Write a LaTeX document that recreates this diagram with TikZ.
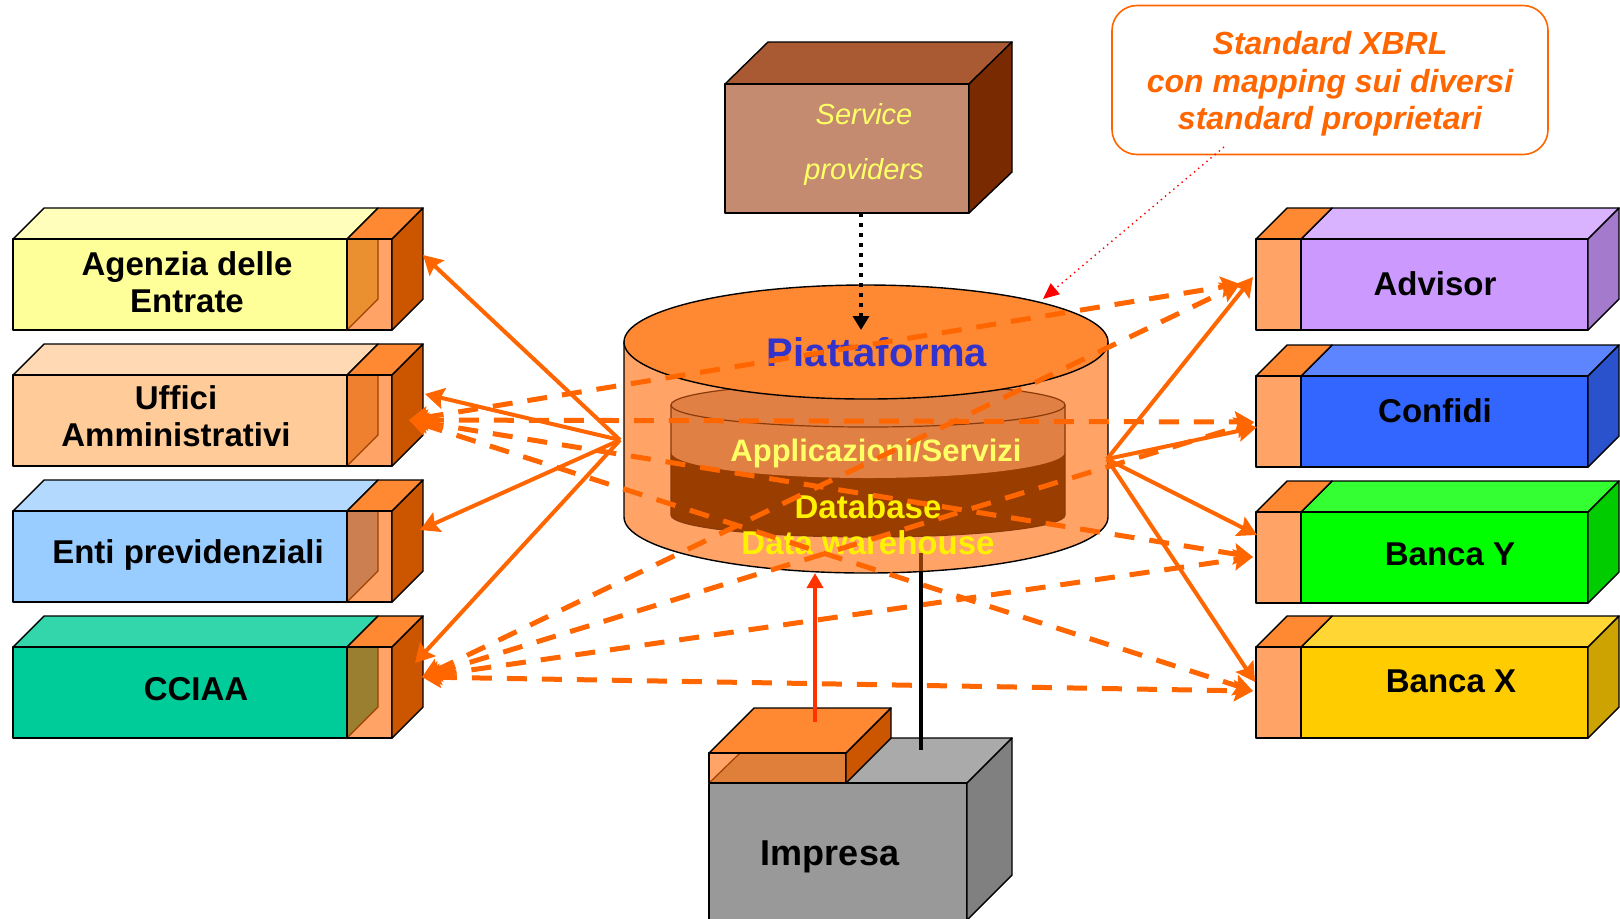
\documentclass[tikz,border=0pt]{standalone}
\usepackage{fontspec}
\setmainfont{Liberation Sans}
\usetikzlibrary{arrows.meta}
\definecolor{conn}{HTML}{FF6600}
\definecolor{captop}{HTML}{FF8833}
\definecolor{capfront}{HTML}{FFA366}
\definecolor{capside}{HTML}{CC5500}
\definecolor{capline}{HTML}{A04000}
\definecolor{agfront}{HTML}{FFFF99}
\definecolor{agtop}{HTML}{FFFFBB}
\definecolor{aginner}{HTML}{EB9030}
\definecolor{uffront}{HTML}{FFCC99}
\definecolor{uftop}{HTML}{FFD9B3}
\definecolor{ufinner}{HTML}{EE8030}
\definecolor{enfront}{HTML}{99CCFF}
\definecolor{entop}{HTML}{B3D9FF}
\definecolor{eninner}{HTML}{CC7F50}
\definecolor{ccfront}{HTML}{00CC99}
\definecolor{cctop}{HTML}{33D6AA}
\definecolor{ccinner}{HTML}{9A7F30}
\definecolor{adfront}{HTML}{CC99FF}
\definecolor{adtop}{HTML}{D9B3FF}
\definecolor{adside}{HTML}{A37ACC}
\definecolor{cofront}{HTML}{3366FF}
\definecolor{cotop}{HTML}{5C85FF}
\definecolor{coside}{HTML}{2952CC}
\definecolor{byfront}{HTML}{00FF00}
\definecolor{bytop}{HTML}{33FF33}
\definecolor{byside}{HTML}{00CC00}
\definecolor{bxfront}{HTML}{FFCC00}
\definecolor{bxtop}{HTML}{FFD633}
\definecolor{bxside}{HTML}{CCA300}
\definecolor{svfront}{HTML}{C48B70}
\definecolor{svtop}{HTML}{AA5A33}
\definecolor{svside}{HTML}{7A2A00}
\definecolor{svtext}{HTML}{FFFF66}
\definecolor{cyltop}{HTML}{FF8833}
\definecolor{cylbody}{HTML}{FFA366}
\definecolor{band}{HTML}{E08045}
\definecolor{dbdark}{HTML}{993D00}
\definecolor{innerline}{HTML}{8B3A0A}
\definecolor{piattblue}{HTML}{3333CC}
\definecolor{imfront}{HTML}{999999}
\definecolor{imtop}{HTML}{AAAAAA}
\definecolor{imside}{HTML}{808080}
\definecolor{imorange}{HTML}{E07F3A}
\definecolor{feed}{HTML}{FF3300}
\tikzset{>/.tip={Stealth[length=9.5pt,width=10.5pt,inset=1.5pt]},
  boxface/.style={draw=black, line width=0.7pt, line join=round},
  lbl/.style={font=\bfseries\fontsize{16.5}{18.75}\selectfont, align=center},
  link/.style={draw=conn, line width=2pt, ->},
  dlink/.style={draw=conn, line width=2.5pt, dash pattern=on 10pt off 7.5pt, <->},
  callout/.style={draw=conn, line width=0.8pt, rounded corners=12.5pt, fill=white,
    minimum width=218pt, minimum height=74.5pt, text=conn, align=center,
    font=\bfseries\itshape\fontsize{16}{18.75}\selectfont}}
% top y, front, top, inner
\newcommand{\leftblock}[4]{%
  \begin{scope}[shift={(0,#1)}]
    \filldraw[boxface, fill=#3] (13,0) -- (44,-31) -- (378,-31) -- (347,0) -- cycle;
    \filldraw[boxface, fill=#2] (13,0) rectangle (347,91);
    \filldraw[boxface, fill=captop] (347,0) -- (378,-31) -- (423,-31) -- (392,0) -- cycle;
    \fill[capfront] (347,0) rectangle (392,91);
    \filldraw[draw=capline, line width=0.6pt, fill=#4] (347,0) -- (378,0) -- (378,60) -- (347,91) -- cycle;
    \draw[boxface] (347,0) rectangle (392,91);
    \filldraw[boxface, fill=capside] (392,0) -- (423,-31) -- (423,60) -- (392,91) -- cycle;
  \end{scope}}
% top y, front, top, side
\newcommand{\rightblock}[4]{%
  \begin{scope}[shift={(0,#1)}]
    \filldraw[boxface, fill=#3] (1301,0) -- (1332,-31) -- (1619,-31) -- (1588,0) -- cycle;
    \filldraw[boxface, fill=captop] (1256,0) -- (1287,-31) -- (1332,-31) -- (1301,0) -- cycle;
    \filldraw[boxface, fill=capfront] (1256,0) rectangle (1301,91);
    \filldraw[boxface, fill=#2] (1301,0) rectangle (1588,91);
    \filldraw[boxface, fill=#4] (1588,0) -- (1619,-31) -- (1619,60) -- (1588,91) -- cycle;
  \end{scope}}

\begin{document}
\begin{tikzpicture}[x=0.5pt, y=-0.5pt]
\clip (0,0) rectangle (1620,918);
\fill[white] (0,0) rectangle (1620,918);

\leftblock{239}{agfront}{agtop}{aginner}
\leftblock{375}{uffront}{uftop}{ufinner}
\leftblock{511}{enfront}{entop}{eninner}
\leftblock{647}{ccfront}{cctop}{ccinner}
\node[lbl] (agenzia) at (187,282) {Agenzia delle\\Entrate};
\node[lbl] (uffici)  at (176,416) {Uffici\\Amministrativi};
\node[lbl, anchor=base] (enti)  at (188,563) {Enti previdenziali};
\node[lbl, anchor=base] (cciaa) at (196,700) {CCIAA};

\rightblock{239}{adfront}{adtop}{adside}
\rightblock{376}{cofront}{cotop}{coside}
\rightblock{512}{byfront}{bytop}{byside}
\rightblock{647}{bxfront}{bxtop}{bxside}
\node[lbl, anchor=base] (advisor) at (1435,295) {Advisor};
\node[lbl, anchor=base] (confidi) at (1435,422) {Confidi};
\node[lbl, anchor=base] (bancay)  at (1450,565) {Banca Y};
\node[lbl, anchor=base] (bancax)  at (1451,692) {Banca X};

% service providers
\filldraw[boxface, fill=svtop] (725,84) -- (768,42) -- (1012,42) -- (969,84) -- cycle;
\filldraw[boxface, fill=svfront] (725,84) rectangle (969,213);
\filldraw[boxface, fill=svside] (969,84) -- (1012,42) -- (1012,172) -- (969,213) -- cycle;
\node[font=\itshape\fontsize{14.5}{27.5}\selectfont, text=svtext, align=center] (service) at (864,144) {Service\\providers};

% impresa
\filldraw[boxface, fill=imtop] (709,783) -- (754,738) -- (1012,738) -- (967,783) -- cycle;
\filldraw[boxface, fill=imfront] (709,783) rectangle (967,925);
\filldraw[boxface, fill=imside] (967,783) -- (1012,738) -- (1012,875) -- (967,920) -- cycle;
\filldraw[boxface, fill=captop] (709,753) -- (754,708) -- (891,708) -- (846,753) -- cycle;
\fill[imorange] (709,753) rectangle (846,783);
\filldraw[draw=capline, line width=0.6pt, fill=capfront] (709,753) -- (740,753) -- (709,783) -- cycle;
\draw[boxface] (709,753) rectangle (846,783);
\filldraw[boxface, fill=capside] (846,753) -- (891,708) -- (891,738) -- (846,783) -- cycle;
\node[lbl, font=\bfseries\fontsize{18}{20}\selectfont, anchor=base] (impresa) at (830,865) {Impresa};

% piattaforma
\filldraw[boxface, fill=cylbody] (624,342) -- (624,517) arc[start angle=180, end angle=0, x radius=242, y radius=56] -- (1108,342) -- cycle;
\fill[dbdark] (671,405) -- (671,515) arc[start angle=180, end angle=0, x radius=197, y radius=22] -- (1065,405) -- cycle;
\fill[band] (671,405) -- (671,452) arc[start angle=180, end angle=0, x radius=197, y radius=26] -- (1065,405) -- cycle;
\filldraw[draw=innerline, line width=0.6pt, fill=band] (868,405) ellipse [x radius=197, y radius=22];
\draw[innerline, line width=0.6pt] (671,405) -- (671,515) arc[start angle=180, end angle=0, x radius=197, y radius=22] -- (1065,405);
\filldraw[boxface, fill=cyltop] (866,342) ellipse [x radius=242, y radius=57];
\node[font=\bfseries\fontsize{20}{22}\selectfont, text=piattblue, anchor=base] (piatt) at (877,366) {Piattaforma};
\node[font=\bfseries\fontsize{15.5}{18}\selectfont, text=svtext, anchor=base] (app) at (876,461) {Applicazioni/Servizi};
\node[font=\bfseries\fontsize{16.5}{18}\selectfont, text=yellow, align=center] (db) at (868,525) {Database\\Data warehouse};

% ports
\coordinate (hubL) at (620,440);
\coordinate (hubR) at (1107,459);
\coordinate (agenzia-s) at (423,255);
\coordinate (uffici-s)  at (425,394);
\coordinate (enti-s)    at (420,530);
\coordinate (cciaa-s)   at (415,663);
\coordinate (advisor-s) at (1253,277);
\coordinate (confidi-s) at (1257,427);
\coordinate (bancay-s)  at (1257,535);
\coordinate (bancax-s)  at (1255,682);
\coordinate (uffici-d)  at (409,420);
\coordinate (cciaa-d)   at (422,677);
\coordinate (advisor-d) at (1240,284);
\coordinate (confidi-d) at (1254,422);
\coordinate (bancay-d)  at (1253,557);
\coordinate (bancax-d)  at (1253,691);
\coordinate (svc-out) at (861,213);
\coordinate (svc-in)  at (861,330);
\coordinate (imp-out) at (815,722);
\coordinate (imp-in)  at (815,573);
\coordinate (imp-top) at (921,750);
\coordinate (cyl-bot) at (921,571);
\coordinate (db-low)  at (921,553);
\coordinate (note-p) at (1224,147);
\coordinate (cyl-p)  at (1043,299);

\foreach \s in {uffici-d,cciaa-d}
{
  \foreach \t in {advisor-d,confidi-d,bancay-d,bancax-d}
  {
    \draw[dlink] (\s) -- (\t);
  }
}
\foreach \t in {agenzia-s,uffici-s,enti-s,cciaa-s}
  \draw[link] (hubL) -- (\t);
\foreach \t in {advisor-s,confidi-s,bancay-s,bancax-s}
  \draw[link] (hubR) -- (\t);

\draw[line width=2pt, dash pattern=on 2pt off 3pt, -{Triangle[length=7pt,width=8pt]}] (svc-out) -- (svc-in);
\draw[feed, line width=2.2pt, -{Triangle[length=7.5pt,width=8pt]}] (imp-out) -- (imp-in);
\draw[line width=2.3pt] (imp-top) -- (cyl-bot);
\draw[innerline, line width=2.3pt] (cyl-bot) -- (db-low);

\node[callout] (note) at (1330,80) {\rule{0pt}{15.7pt}Standard XBRL\\con mapping sui diversi\\standard proprietari};
\draw[red, line width=0.7pt, dotted, -{Triangle[length=8pt,width=7pt]}] (note-p) -- (cyl-p);
\end{tikzpicture}
\end{document}
